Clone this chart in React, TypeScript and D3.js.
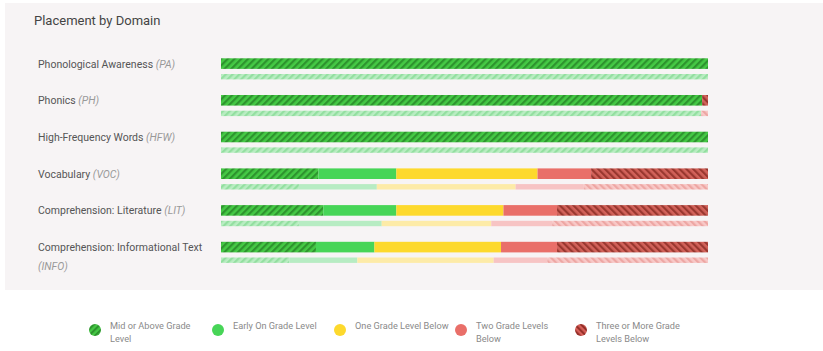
import React from "react";
import * as d3 from "d3";

const domains = [
  "Phonological Awareness",
  "Phonics",
  "High-Frequency Words",
  "Vocabulary",
  "Comprehension: Literature",
  "Comprehension: Informational Text",
];
const abbreviations = ["PA", "PH", "HFW", "VOC", "LIT", "INFO"];

const categories = ["midOrAbove", "earlyOn", "oneBelow", "twoBelow", "threeOrMore"];
const legendLines = [
  ["Mid or Above Grade", "Level"],
  ["Early On Grade Level"],
  ["One Grade Level Below"],
  ["Two Grade Levels", "Below"],
  ["Three or More Grade", "Levels Below"],
];

// Main (current) placement, percent
const midOrAbove = [100, 98.8, 100, 20, 21, 19.5];
const earlyOn = [0, 0, 0, 16, 15, 12];
const oneBelow = [0, 0, 0, 29, 22, 26];
const twoBelow = [0, 0, 0, 11, 11, 11.5];
const threeOrMore = [0, 1.2, 0, 24, 31, 31];

// Comparison (thin bar), percent
const midOrAboveRef = [100, 98.6, 100, 16, 16, 14];
const earlyOnRef = [0, 0, 0, 16, 17, 14];
const oneBelowRef = [0, 0, 0, 28.5, 22.5, 28];
const twoBelowRef = [0, 0, 0, 14, 12.5, 11];
const threeOrMoreRef = [0, 1.4, 0, 25.5, 32, 33];

const mainFills = ["url(#hGreen)", "#47d557", "#fdd92d", "#e96f69", "url(#hRed)"];
const refFills = ["url(#hGreenL)", "#b7ecc3", "#fdeba8", "#f7c4c4", "url(#hRedL)"];
const legendFills = ["url(#hGreenLeg)", "#47d557", "#fdd92d", "#e96f69", "url(#hRedLeg)"];

function buildRows(series: number[][]) {
  return domains.map((d, i) => {
    const row: any = { domain: d };
    categories.forEach((c, k) => (row[c] = series[k][i]));
    return row;
  });
}

export default function App() {
  const W = 823;
  const H = 351;
  const x = d3.scaleLinear().domain([0, 100]).range([221, 708]);
  const y = d3
    .scaleBand<string>()
    .domain(domains)
    .range([58.3 - 13.1, 58.3 - 13.1 + 36.7 * domains.length])
    .paddingInner(0)
    .paddingOuter(0);
  const stack = d3.stack<any>().keys(categories);
  const mainStack = stack(buildRows([midOrAbove, earlyOn, oneBelow, twoBelow, threeOrMore]));
  const refStack = stack(buildRows([midOrAboveRef, earlyOnRef, oneBelowRef, twoBelowRef, threeOrMoreRef]));
  const mainTop = 13.1;
  const mainH = 10.6;
  const refTop = 28.8;
  const refH = 5.4;
  const legendX = [95, 218, 340, 461, 581];

  const stripe = (id: string, base: string, line: string, angle: number, size = 4.8, lw = 2.2) => (
    <pattern
      id={id}
      patternUnits="userSpaceOnUse"
      width={size}
      height={size}
      patternTransform={`rotate(${angle})`}
    >
      <rect width={size} height={size} fill={base} />
      <rect width={lw} height={size} fill={line} />
    </pattern>
  );

  return (
    <svg
      width={W}
      height={H}
      style={{ position: "absolute", left: 0, top: 0, fontFamily: "Roboto, sans-serif" }}
    >
      <defs>
        {stripe("hGreen", "#45c945", "#2e932e", 45)}
        {stripe("hGreenL", "#b9edc2", "#93dfa0", 45)}
        {stripe("hRed", "#d2625a", "#99372f", -45)}
        {stripe("hRedL", "#f8c8c7", "#eda6a3", -45)}
        {stripe("hGreenLeg", "#45c945", "#2e932e", 45, 4.4, 2.1)}
        {stripe("hRedLeg", "#d8605a", "#942f28", -45, 4.4, 2.1)}
      </defs>
      <rect x={0} y={0} width={W} height={H} fill="#ffffff" />
      <rect x={5} y={3} width={W - 5} height={287} fill="#f7f4f5" />
      <text x={34} y={25} fontSize={13} fill="#444">
        Placement by Domain
      </text>
      {domains.map((d, i) => {
        const yc = (y(d) as number) + mainTop + mainH / 2 + 4;
        if (abbreviations[i] === "INFO") {
          return (
            <g key={d}>
              <text x={38} y={yc - 0.5} fontSize={10.5} fill="#555">
                {d}
              </text>
              <text x={38} y={yc + 19} fontSize={10.5} fill="#999" fontStyle="italic">
                ({abbreviations[i]})
              </text>
            </g>
          );
        }
        return (
          <text key={d} x={38} y={yc} fontSize={10.5} fill="#555">
            {d}{" "}
            <tspan fill="#999" fontStyle="italic">
              ({abbreviations[i]})
            </tspan>
          </text>
        );
      })}
      {mainStack.map((s, k) => (
        <g key={"m" + k}>
          {s.map((p, i) =>
            p[1] - p[0] > 0 ? (
              <rect
                key={i}
                x={x(p[0])}
                y={(y(domains[i]) as number) + mainTop}
                width={x(p[1]) - x(p[0])}
                height={mainH}
                fill={mainFills[k]}
              />
            ) : null
          )}
        </g>
      ))}
      {refStack.map((s, k) => (
        <g key={"r" + k}>
          {s.map((p, i) =>
            p[1] - p[0] > 0 ? (
              <rect
                key={i}
                x={x(p[0])}
                y={(y(domains[i]) as number) + refTop}
                width={x(p[1]) - x(p[0])}
                height={refH}
                fill={refFills[k]}
              />
            ) : null
          )}
        </g>
      ))}
      {legendLines.map((lines, k) => (
        <g key={"l" + k}>
          <circle cx={legendX[k]} cy={330} r={6} fill={legendFills[k]} />
          {lines.map((ln, j) => (
            <text key={j} x={legendX[k] + 15} y={329 + j * 12.5} fontSize={9.2} fill="#8a8a8a">
              {ln}
            </text>
          ))}
        </g>
      ))}
    </svg>
  );
}
